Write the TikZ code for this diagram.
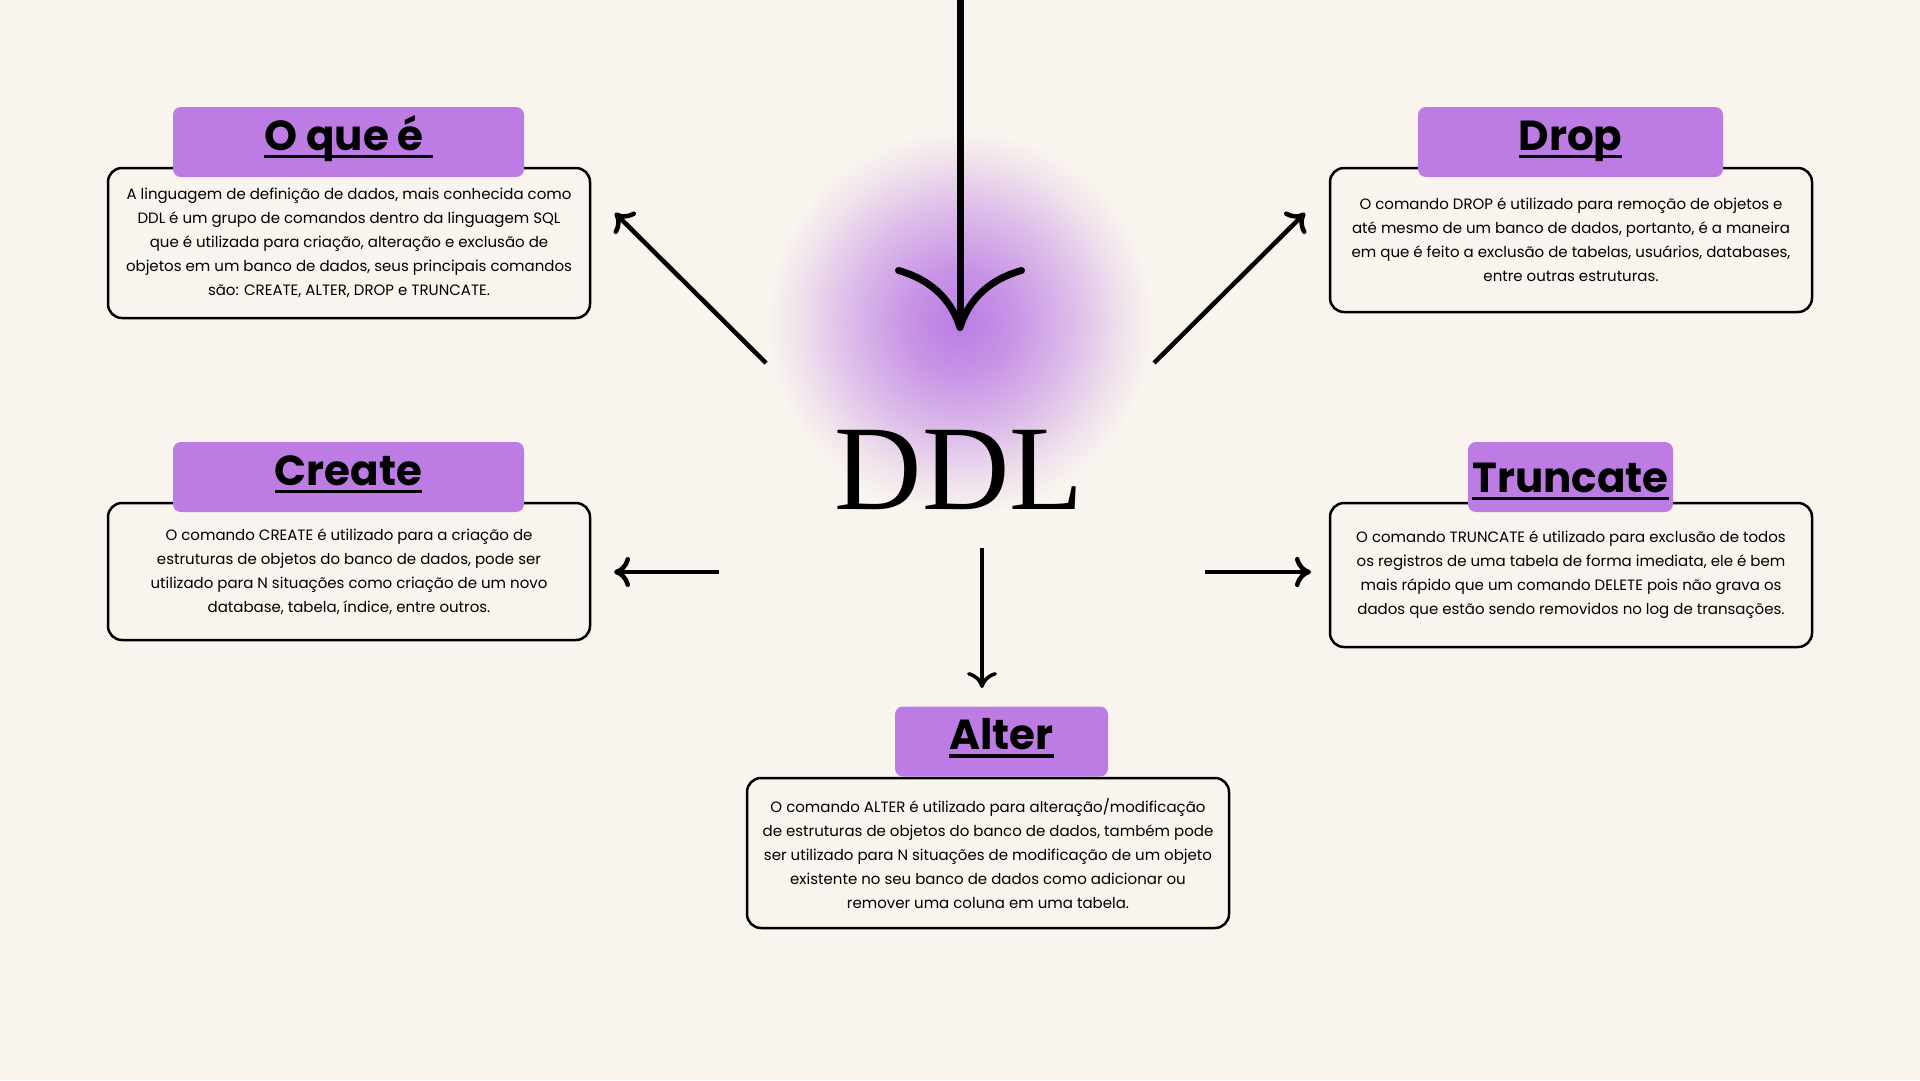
\documentclass[tikz,border=0pt]{standalone}
\usepackage{fontspec}
\usepackage{tikz}
\usetikzlibrary{arrows.meta}
\newfontfamily\popfont{Poppins}
\newfontfamily\titlefont{Liberation Serif}
\definecolor{paper}{RGB}{249,244,238}
\definecolor{lilac}{RGB}{188,124,228}
\pgfdeclareradialshading{halo}{\pgfpointorigin}{color(0bp)=(lilac); color(7bp)=(lilac!80!paper); color(15bp)=(lilac!45!paper); color(21bp)=(lilac!15!paper); color(25bp)=(paper); color(50bp)=(paper)}
\newcommand{\ulhead}[1]{\setbox0=\hbox{#1}\rlap{\rule[-8pt]{\wd0}{3.5pt}}\box0}

\begin{document}
\begin{tikzpicture}[x=1pt, y=-1pt,
    card/.style={draw, line width=2.5pt, rounded corners=14pt, fill=paper, minimum width=482pt,
      align=center, font=\popfont\fontsize{15}{24}\selectfont},
    tab/.style={fill=lilac, rounded corners=8pt, minimum height=70pt, text height=30pt, text depth=14pt,
      font=\popfont\bfseries\fontsize{42}{42}\selectfont},
    pointer/.style={line width=4.5pt, -{Computer Modern Rightarrow[length=16pt, width=30pt]}},
    bigpointer/.style={line width=7pt, -{Computer Modern Rightarrow[length=64pt, width=130pt]}}]
      \useasboundingbox (0, 0) rectangle (1920, 1080);
      \fill[paper] (0, 0) rectangle (1920, 1080);
      \shade[shading=halo] (960, 322) circle (192pt);
      % centre
      \coordinate (top) at (960, 0);
      \coordinate (toptip) at (960, 331);
      \draw[bigpointer] (top) -- (toptip);
      \node[anchor=base, font=\titlefont\fontsize{121}{121}\selectfont] (ddl) at (959, 509) {DDL};
      % cards
      \node[card, minimum height=150pt] (oque) at (349, 243) {A linguagem de definição de dados, mais conhecida como\\DDL é um grupo de comandos dentro da linguagem SQL\\que é utilizada para criação, alteração e exclusão de\\objetos em um banco de dados, seus principais comandos\\são: CREATE, ALTER, DROP e TRUNCATE.};
      \node[card, minimum height=144pt] (drop) at (1571, 240) {O comando DROP é utilizado para remoção de objetos e\\até mesmo de um banco de dados, portanto, é a maneira\\em que é feito a exclusão de tabelas, usuários, databases,\\entre outras estruturas.};
      \node[card, minimum height=137pt] (create) at (349, 571.5) {O comando CREATE é utilizado para a criação de\\estruturas de objetos do banco de dados, pode ser\\utilizado para N situações como criação de um novo\\database, tabela, índice, entre outros.};
      \node[card, minimum height=144pt] (truncate) at (1571, 575) {O comando TRUNCATE é utilizado para exclusão de todos\\os registros de uma tabela de forma imediata, ele é bem\\mais rápido que um comando DELETE pois não grava os\\dados que estão sendo removidos no log de transações.};
      \node[card, minimum height=150pt] (alter) at (988, 853) {O comando ALTER é utilizado para alteração/modificação\\de estruturas de objetos do banco de dados, também pode\\ser utilizado para N situações de modificação de um objeto\\existente no seu banco de dados como adicionar ou\\remover uma coluna em uma tabela.};
      % headers
      \node[tab, minimum width=351pt] (oquetab) at (348.5, 142) {\ulhead{O que é\ }};
      \node[tab, minimum width=305pt] (droptab) at (1570.5, 142) {\ulhead{Drop}};
      \node[tab, minimum width=351pt] (createtab) at (348.5, 477) {\ulhead{Create}};
      \node[tab, minimum width=205pt, text height=37pt, text depth=7pt] (truncatetab) at (1570.5, 477) {\ulhead{Truncate}};
      \node[tab, minimum width=213pt] (altertab) at (1001.5, 741.5) {\ulhead{Alter}};
      % arrows
      \coordinate (nwfrom) at (766, 363);
      \coordinate (nwto) at (615, 213);
      \coordinate (nefrom) at (1154, 363);
      \coordinate (neto) at (1305, 213);
      \coordinate (wfrom) at (719, 572);
      \coordinate (wto) at (614, 572);
      \coordinate (efrom) at (1205, 572);
      \coordinate (eto) at (1311, 572);
      \coordinate (sfrom) at (982, 548);
      \coordinate (sto) at (982, 688);
      \draw[pointer] (nwfrom) -- (nwto);
      \draw[pointer] (nefrom) -- (neto);
      \draw[pointer] (wfrom) -- (wto);
      \draw[pointer] (efrom) -- (eto);
      \draw[pointer, line width=3.5pt] (sfrom) -- (sto);
    \end{tikzpicture}
\end{document}
